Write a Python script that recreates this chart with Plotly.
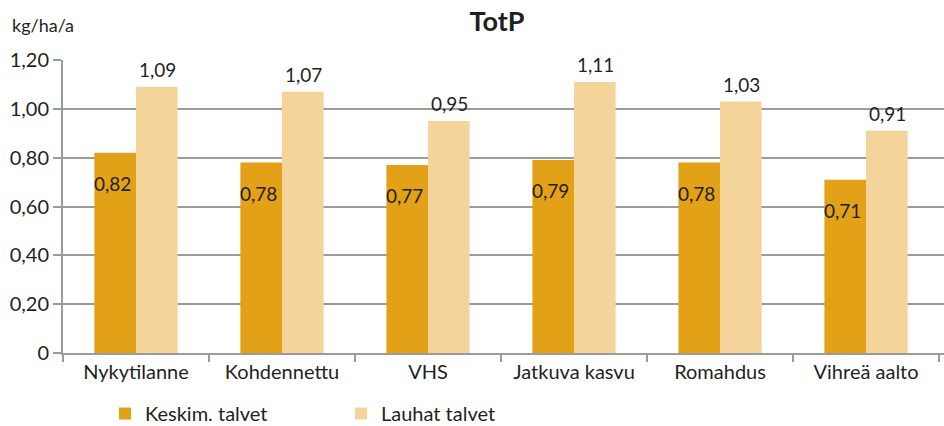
import plotly.graph_objects as go

categories = ["Nykytilanne", "Kohdennettu", "VHS", "Jatkuva kasvu", "Romahdus", "Vihreä aalto"]
keskim = [0.82, 0.78, 0.77, 0.79, 0.78, 0.71]
lauhat = [1.09, 1.07, 0.95, 1.11, 1.03, 0.91]
series_names = ["Keskim. talvet", "Lauhat talvet"]
ytick_vals = [0, 0.2, 0.4, 0.6, 0.8, 1.0, 1.2]
ytick_text = ["0", "0,20", "0,40", "0,60", "0,80", "1,00", "1,20"]

DARK = "#E3A117"
LIGHT = "#F5D49B"
GRID = "#9B9B9B"
FONT = "Lato"
TXT = "#1f1f1f"

def fi(v):
    return f"{v:.2f}".replace(".", ",")

fig = go.Figure()
fig.add_trace(go.Bar(x=categories, y=keskim, name=series_names[0], marker_color=DARK,
                     marker_line_width=0))
fig.add_trace(go.Bar(x=categories, y=lauhat, name=series_names[1], marker_color=LIGHT,
                     marker_line_width=0))

annotations = []
for i, (c, v) in enumerate(zip(categories, keskim)):
    annotations.append(dict(x=i, y=v, xref="x", yref="y", text=fi(v), showarrow=False,
                            xshift=-24, yanchor="top", yshift=-17,
                            font=dict(family=FONT, size=19, color=TXT)))
for i, (c, v) in enumerate(zip(categories, lauhat)):
    annotations.append(dict(x=i, y=v, xref="x", yref="y", text=fi(v), showarrow=False,
                            xshift=21, yanchor="bottom", yshift=4,
                            font=dict(family=FONT, size=19, color=TXT)))
annotations.append(dict(x=(10 - 63) / 881, y=(353 - 25) / 293, xref="paper", yref="paper",
                        text="kg/ha/a", showarrow=False, xanchor="left", yanchor="middle",
                        font=dict(family=FONT, size=18, color=TXT)))

fig.update_layout(
    template="none",
    width=944, height=426,
    margin=dict(l=63, r=0, t=60, b=73, autoexpand=False),
    paper_bgcolor="white", plot_bgcolor="white",
    font=dict(family=FONT, size=20, color=TXT),
    title=dict(text="<b>TotP</b>", x=497 / 944, xanchor="center", y=1 - 22 / 426,
               yanchor="middle", font=dict(family=FONT, size=27, color=TXT)),
    bargap=0.43, bargroupgap=0,
    showlegend=True,
    legend=dict(orientation="h", x=(105 - 63) / 881, xanchor="left", y=-0.14, yanchor="top",
                font=dict(family=FONT, size=20, color=TXT), entrywidth=191,
                entrywidthmode="pixels", traceorder="normal", bgcolor="rgba(0,0,0,0)"),
    annotations=annotations,
)
fig.update_xaxes(range=[-0.5, 5.5 + 5 / 147.5], showline=True, linecolor=GRID, linewidth=2,
                 ticks="outside", tickson="boundaries", ticklen=7, tickcolor=GRID, tickwidth=2,
                 showgrid=False, automargin=False, tickfont=dict(family=FONT, size=20, color=TXT))
fig.update_yaxes(range=[0, 1.2], tickvals=ytick_vals, ticktext=ytick_text,
                 showline=True, linecolor=GRID, linewidth=2, ticks="outside", ticklen=8,
                 tickcolor=GRID, tickwidth=2, showgrid=True, gridcolor=GRID, gridwidth=2,
                 zeroline=False, automargin=False, tickfont=dict(family=FONT, size=20, color=TXT))

fig.write_html("out.html", config={"displayModeBar": False},
               post_script="document.body.style.margin='0';document.body.style.overflow='hidden';")
